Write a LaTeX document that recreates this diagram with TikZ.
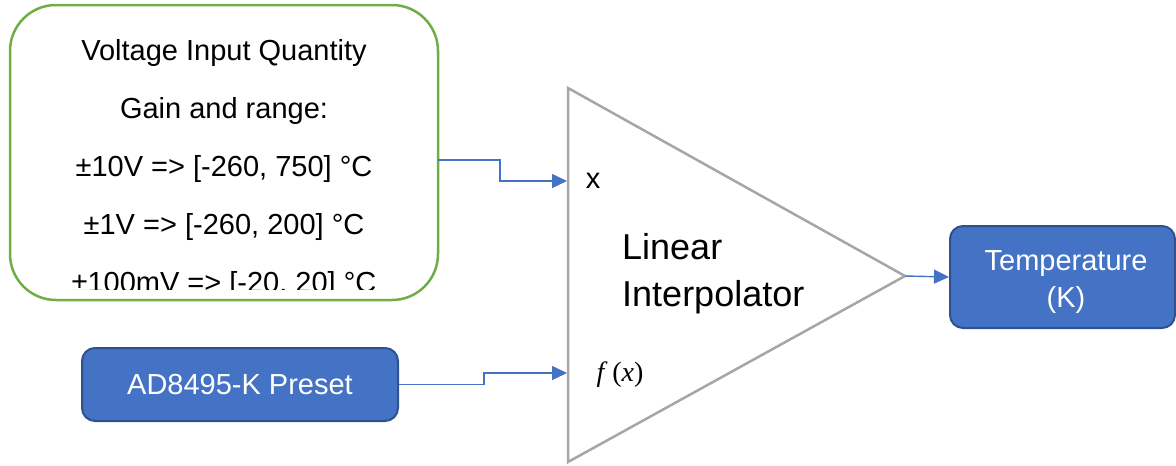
\documentclass[tikz,border=0pt]{standalone}
\usepackage{fontspec}
\setmainfont{Liberation Sans}
\newfontfamily\mathlike{Liberation Serif}
\usetikzlibrary{arrows.meta}
\definecolor{grn}{RGB}{112,173,71}
\definecolor{blu}{RGB}{68,114,196}
\definecolor{bludark}{RGB}{47,82,143}
\definecolor{gry}{RGB}{166,166,166}
\tikzset{
  lbl/.style={font=\fontsize{29}{34}\selectfont, inner sep=0pt, anchor=base},
  bluebox/.style={draw=bludark, line width=2pt, fill=blu, rounded corners=13pt},
  conn/.style={draw=blu, line width=1.4pt, -{Triangle[length=15pt,width=14pt]}},
}
\begin{document}
\begin{tikzpicture}[x=1pt,y=-1pt]
\useasboundingbox (0,0) rectangle (1176,466);
% green box
\draw[grn, line width=2.5pt, rounded corners=46pt] (10,5) rectangle (438,300);
\coordinate (gout) at (438,160);
\begin{scope}
\clip (12,7) rectangle (436,289);
\node[lbl] (l1) at (224,60) {Voltage Input Quantity};
\node[lbl] (l2) at (224,118) {Gain and range:};
\node[lbl] (l3) at (224,176) {±10V => [-260, 750] °C};
\node[lbl] (l4) at (224,234) {±1V => [-260, 200] °C};
\node[lbl] (l5) at (224,292) {±100mV => [-20, 20] °C};
\end{scope}
% triangle
\coordinate (ta) at (568,88);
\coordinate (tb) at (568,462);
\coordinate (tc) at (905,276);
\draw[gry, line width=2.5pt, line join=miter] (ta) -- (tc) -- (tb) -- cycle;
\coordinate (tx) at (567,181);
\coordinate (tf) at (567,373);
\node[lbl] (x) at (593,188) {x};
\node[lbl, anchor=base west, font=\fontsize{36}{40}\selectfont] (lin) at (622,259) {Linear};
\node[lbl, anchor=base west, font=\fontsize{36}{40}\selectfont] (int) at (622,306) {Interpolator};
\node[lbl, font=\mathlike\fontsize{28}{30}\selectfont] (fx) at (620,381) {\textit{f}\,(\textit{x})};
% AD8495 box
\node[bluebox, minimum width=316pt, minimum height=73pt, inner sep=0pt, text=white, font=\fontsize{29}{34}\selectfont] (ad) at (240,384.5) {AD8495-K Preset};
% Temperature box
\node[bluebox, minimum width=225pt, minimum height=102pt, inner sep=0pt] (temp) at (1062.5,277) {};
\node[lbl, text=white] (t1) at (1066,270) {Temperature};
\node[lbl, text=white] (t2) at (1066,307) {(K)};
% connectors
\draw[conn] (gout) -- (500,160) -- (500,181) -- (tx);
\draw[conn] (ad.east) -- (484,384.5) -- (484,373) -- (tf);
\draw[conn] (tc) -- (temp.west);
\end{tikzpicture}
\end{document}
